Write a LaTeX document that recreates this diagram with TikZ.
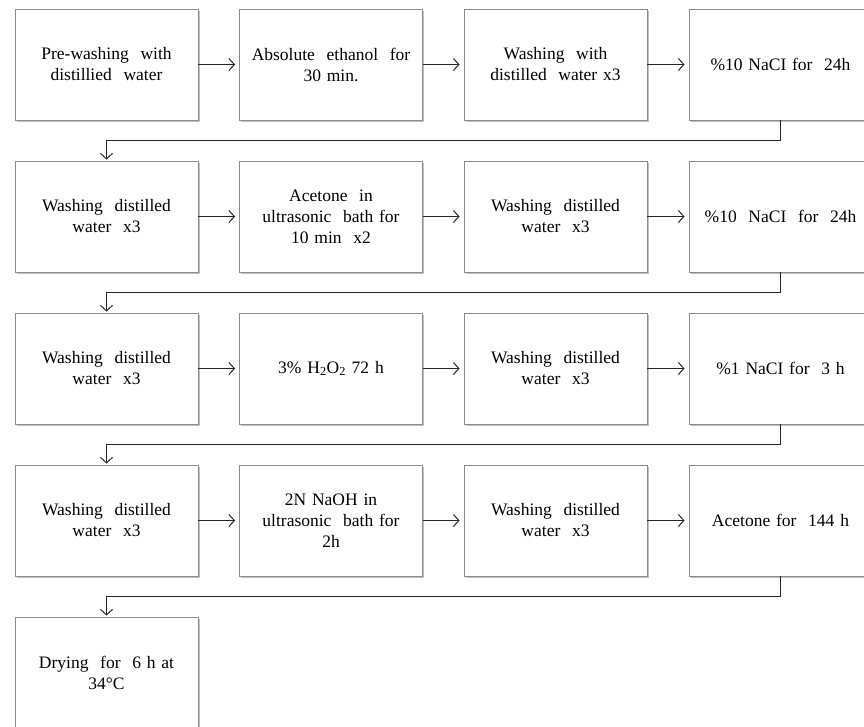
\documentclass[tikz,border=0pt]{standalone}
\usepackage{fontspec}
\setmainfont{Liberation Serif}
\usetikzlibrary{arrows.meta,shadows}
\begin{document}
\begin{tikzpicture}[x=1pt,y=1pt,
  stepbox/.style={draw=black!45, line width=0.9pt, fill=white,
    minimum width=183pt, minimum height=111pt, text width=165pt, align=center,
    inner sep=0pt, font=\fontsize{17.5}{21}\selectfont,
    drop shadow={shadow xshift=1.6pt, shadow yshift=-1.6pt, fill=black, opacity=0.25}},
  arr/.style={draw=black!85, line width=1pt, -{Straight Barb[length=5.5pt,width=12pt]}},
  harr/.style={arr, shorten >=4pt},
  varr/.style={arr, shorten >=1pt}]
\clip (0,0) rectangle (864,-726);
\fill[white] (0,0) rectangle (864,-726);
% row 1
\node[stepbox] (a1) at (106.5,-64.5) {Pre-washing\ \ with\\distillied\ \ water};
\node[stepbox] (a2) at (331,-64.5) {Absolute\ \ ethanol\ \ for\\30 min.};
\node[stepbox] (a3) at (555.5,-64.5) {Washing\ \ with\\distilled\ \ water x3};
\node[stepbox] (a4) at (780.5,-64.5) {\%10 NaCI for\ \ 24h};
% row 2
\node[stepbox] (b1) at (106.5,-216.5) {Washing\ \ distilled\\water\ \ x3};
\node[stepbox] (b2) at (331,-216.5) {Acetone\ \ in\\ultrasonic\ \ bath\ for\\10 min\ \ x2};
\node[stepbox] (b3) at (555.5,-216.5) {Washing\ \ distilled\\water\ \ x3};
\node[stepbox] (b4) at (780.5,-216.5) {\%10\ \ NaCI\ \ for\ \ 24h};
% row 3
\node[stepbox] (c1) at (106.5,-368.5) {Washing\ \ distilled\\water\ \ x3};
\node[stepbox] (c2) at (331,-368.5) {3\% H\textsubscript{2}O\textsubscript{2} 72 h};
\node[stepbox] (c3) at (555.5,-368.5) {Washing\ \ distilled\\water\ \ x3};
\node[stepbox] (c4) at (780.5,-368.5) {\%1 NaCI for\ \ 3 h};
% row 4
\node[stepbox] (d1) at (106.5,-520.5) {Washing\ \ distilled\\water\ \ x3};
\node[stepbox] (d2) at (331,-520.5) {2N NaOH in\\ultrasonic\ \ bath\ for\\2h};
\node[stepbox] (d3) at (555.5,-520.5) {Washing\ \ distilled\\water\ \ x3};
\node[stepbox] (d4) at (780.5,-520.5) {Acetone\ for\ \ 144 h};
% row 5
\node[stepbox] (e1) at (106.5,-672.5) {Drying\ \ for\ \ 6 h at\\34°C};
% horizontal arrows
\foreach \r in {a,b,c,d}{
  \draw[harr] (\r1.east) -- (\r2.west);
  \draw[harr] (\r2.east) -- (\r3.west);
  \draw[harr] (\r3.east) -- (\r4.west);
}
% row connectors
\draw[varr] (a4.south) -- ++(0,-20.5) -| (b1.north);
\draw[varr] (b4.south) -- ++(0,-20.5) -| (c1.north);
\draw[varr] (c4.south) -- ++(0,-20.5) -| (d1.north);
\draw[varr] (d4.south) -- ++(0,-20.5) -| (e1.north);
\end{tikzpicture}
\end{document}
